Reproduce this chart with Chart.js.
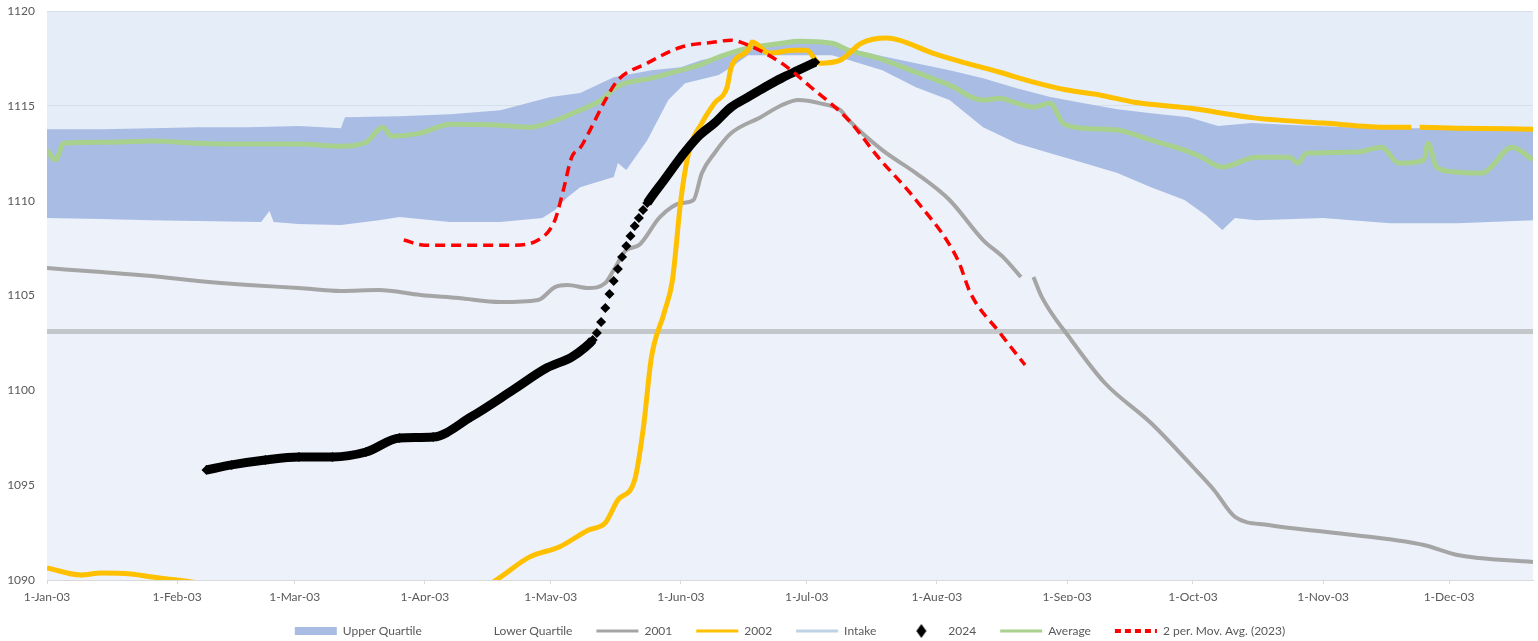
<!DOCTYPE html>
<html>
<head>
<meta charset="utf-8">
<script src="https://cdn.jsdelivr.net/npm/chart.js@4.4.1/dist/chart.umd.min.js"></script>
<style>
  html, body { margin: 0; padding: 0; background: #fff; }
</style>
</head>
<body>
<canvas id="levelChart" width="1538" height="641"></canvas>
<script>
// x values are day of year (0 = 1-Jan)
const monthDays = [0, 31, 59, 90, 120, 151, 181, 212, 243, 273, 304, 334];
const monthLabels = ["1-Jan-03", "1-Feb-03", "1-Mar-03", "1-Apr-03", "1-May-03", "1-Jun-03",
  "1-Jul-03", "1-Aug-03", "1-Sep-03", "1-Oct-03", "1-Nov-03", "1-Dec-03"];

const upperDays = [0, 13, 25, 36, 48, 60, 70, 71, 84, 96, 108, 120, 127, 135, 144, 151, 156, 167, 175, 179, 184, 191, 198, 207, 215, 223, 231, 239, 247, 255, 263, 272, 279, 287, 298, 310, 322, 334, 354];
const upperVals = [1113.78, 1113.78, 1113.83, 1113.88, 1113.88, 1113.94, 1113.83, 1114.41, 1114.46, 1114.57, 1114.78, 1115.47, 1115.68, 1116.52, 1116.89, 1117.05, 1117.42, 1117.94, 1118.21, 1118.37, 1118.31, 1118.05, 1117.68, 1117.26, 1116.89, 1116.47, 1115.94, 1115.47, 1115.15, 1114.83, 1114.62, 1114.41, 1113.94, 1114.10, 1113.99, 1113.88, 1113.83, 1113.83, 1113.78];

const lowerDays = [0, 13, 25, 36, 51, 53, 54, 60, 70, 79, 84, 96, 108, 118, 121, 124, 127, 135, 136, 138, 143, 148, 152, 160, 163, 167, 177, 187, 191, 199, 207, 215, 223, 231, 239, 247, 255, 263, 271, 276, 280, 283, 288, 304, 320, 336, 354];
const lowerVals = [1109.09, 1109.04, 1108.98, 1108.93, 1108.88, 1109.46, 1108.88, 1108.77, 1108.72, 1108.98, 1109.14, 1108.88, 1108.88, 1109.09, 1109.51, 1110.19, 1110.72, 1111.25, 1111.99, 1111.62, 1113.20, 1115.31, 1116.20, 1116.63, 1117.05, 1117.68, 1117.68, 1117.68, 1117.42, 1116.89, 1115.99, 1115.31, 1113.88, 1113.04, 1112.51, 1111.99, 1111.46, 1110.72, 1110.04, 1109.25, 1108.46, 1109.09, 1108.98, 1109.09, 1108.82, 1108.82, 1108.98];

const y2001Days = [0, 13, 25, 36, 48, 60, 70, 79, 89, 98, 108, 117, 121, 124, 129, 133, 135, 138, 141, 146, 151, 154, 156, 159, 163, 170, 175, 179, 184, 189, 191, 199, 207, 215, 223, 228, 232, 234, 235, 237, 244, 252, 263, 273, 278, 283, 291, 307, 328, 336, 354];
const y2001Vals = [1106.45, 1106.24, 1106.03, 1105.77, 1105.56, 1105.40, 1105.24, 1105.29, 1105.03, 1104.87, 1104.66, 1104.77, 1105.45, 1105.56, 1105.40, 1105.66, 1106.35, 1107.40, 1107.66, 1109.14, 1109.88, 1110.04, 1111.46, 1112.51, 1113.57, 1114.41, 1115.04, 1115.31, 1115.15, 1114.78, 1114.25, 1112.67, 1111.46, 1110.04, 1107.93, 1106.98, 1105.98, null, 1105.98, 1104.92, 1102.66, 1100.39, 1098.28, 1095.96, 1094.75, 1093.33, 1092.90, 1092.48, 1091.85, 1091.32, 1090.95];

const y2002Days = [0, 8, 13, 20, 25, 31, 36, 50, 80, 103, 107, 115, 122, 129, 133, 136, 140, 142, 144, 147, 149, 151, 153, 156, 159, 162, 163, 167, 168, 172, 178, 181, 184, 189, 194, 200, 203, 211, 219, 227, 235, 243, 251, 259, 272, 288, 304, 320, 325, 326, 327, 336, 354];
const y2002Vals = [1090.64, 1090.27, 1090.37, 1090.32, 1090.16, 1090.00, 1089.85, 1089.5, 1089.3, 1089.5, 1090.00, 1091.22, 1091.74, 1092.64, 1093.01, 1094.22, 1095.28, 1097.91, 1101.76, 1104.08, 1105.82, 1110.04, 1112.67, 1114.10, 1115.15, 1115.99, 1117.05, 1117.94, 1118.37, 1117.79, 1117.94, 1117.94, 1117.26, 1117.42, 1118.31, 1118.58, 1118.47, 1117.79, 1117.26, 1116.78, 1116.26, 1115.84, 1115.57, 1115.20, 1114.89, 1114.36, 1114.10, 1113.88, 1113.88, null, 1113.88, 1113.83, 1113.78];

const intakeDays = [0, 354];
const intakeVals = [1103.1, 1103.1];

const y2024Days = [38, 44, 52, 60, 68, 76, 84, 92, 101, 111, 119, 125, 128, 130, 131, 132, 133, 134, 135, 136, 137, 138, 139, 140, 141, 142, 143, 147, 151, 155, 159, 163, 167, 171, 175, 179, 183];
const y2024Vals = [1095.80, 1096.07, 1096.33, 1096.49, 1096.49, 1096.75, 1097.49, 1097.54, 1098.60, 1100.02, 1101.18, 1101.76, 1102.24, 1102.66, 1103.03, 1103.61, 1104.34, 1105.08, 1105.77, 1106.40, 1107.03, 1107.61, 1108.14, 1108.67, 1109.09, 1109.51, 1109.88, 1111.09, 1112.30, 1113.36, 1114.10, 1114.94, 1115.47, 1115.99, 1116.47, 1116.89, 1117.31];

const avgDays = [0, 2, 4, 13, 25, 36, 48, 60, 70, 76, 80, 82, 89, 96, 108, 115, 120, 127, 132, 136, 144, 151, 156, 160, 167, 175, 179, 187, 191, 198, 207, 215, 223, 227, 231, 235, 239, 242, 247, 255, 263, 271, 275, 280, 288, 296, 298, 300, 312, 318, 322, 328, 329, 331, 336, 342, 344, 349, 354];
const avgVals = [1112.67, 1112.15, 1113.04, 1113.09, 1113.15, 1113.04, 1112.99, 1112.99, 1112.88, 1113.09, 1113.88, 1113.41, 1113.57, 1114.04, 1113.99, 1113.88, 1114.15, 1114.78, 1115.31, 1116.05, 1116.47, 1116.89, 1117.21, 1117.58, 1118.05, 1118.31, 1118.42, 1118.31, 1117.94, 1117.52, 1116.78, 1116.10, 1115.31, 1115.41, 1115.15, 1114.94, 1115.15, 1114.10, 1113.83, 1113.73, 1113.20, 1112.67, 1112.30, 1111.78, 1112.30, 1112.30, 1111.99, 1112.51, 1112.57, 1112.83, 1111.99, 1112.15, 1113.04, 1111.78, 1111.51, 1111.46, 1111.78, 1112.83, 1112.15];

const movAvgDays = [85, 90, 111, 117, 121, 123, 125, 127, 129, 133, 136, 143, 151, 159, 163, 167, 175, 182, 191, 198, 207, 217, 220, 227, 233];
const movAvgVals = [1107.93, 1107.66, 1107.66, 1107.93, 1108.98, 1110.56, 1112.30, 1112.78, 1113.57, 1115.31, 1116.36, 1117.26, 1118.10, 1118.37, 1118.47, 1118.21, 1117.26, 1115.99, 1114.25, 1112.30, 1110.04, 1106.87, 1105.13, 1103.03, 1101.34];

const pts = (xs, ys) => xs.map((x, i) => ({ x: x, y: ys[i] }));

// small diamond for the 2024 legend entry
const diamond = document.createElement("canvas");
diamond.width = 12; diamond.height = 14;
const dctx = diamond.getContext("2d");
dctx.fillStyle = "#000";
dctx.beginPath();
dctx.moveTo(6, 0); dctx.lineTo(11, 7); dctx.lineTo(6, 14); dctx.lineTo(1, 7);
dctx.closePath(); dctx.fill();

const plotBg = {
  id: "plotBg",
  beforeDraw(chart) {
    const a = chart.chartArea, c = chart.ctx;
    c.save();
    c.fillStyle = "#E4EDF8";
    c.fillRect(a.left, a.top, a.right - a.left, a.bottom - a.top);
    c.restore();
  }
};

const lineDs = (label, data, color, width, order) => ({
  label, data, borderColor: color, backgroundColor: color, borderWidth: width,
  pointRadius: 0, fill: false, order, cubicInterpolationMode: "monotone"
});

const data = {
  datasets: [
    {
      label: "Upper Quartile", data: pts(upperDays, upperVals),
      borderColor: "transparent", borderWidth: 0, backgroundColor: "#A9BCE4",
      fill: "+1", pointRadius: 0, order: 9, legendFill: "#A9BCE4", legendStyle: "rect"
    },
    {
      label: "Lower Quartile", data: pts(lowerDays, lowerVals),
      borderColor: "transparent", borderWidth: 0, backgroundColor: "#EDF1F9",
      fill: "start", pointRadius: 0, order: 10, legendFill: "rgba(0,0,0,0)", legendStyle: "rect"
    },
    lineDs("2001", pts(y2001Days, y2001Vals), "#A5A5A5", 4, 7),
    lineDs("2002", pts(y2002Days, y2002Vals), "#FFC000", 5, 5),
    Object.assign(lineDs("Intake", pts(intakeDays, intakeVals), "#C3C7C9", 5, 8), { legendColor: "#BFD3E6" }),
    {
      label: "2024", data: pts(y2024Days, y2024Vals),
      borderColor: "#000", backgroundColor: "#000", borderWidth: 9,
      pointStyle: "rectRot", pointRadius: 5, pointBorderWidth: 0, pointBackgroundColor: "#000",
      fill: false, order: 4, cubicInterpolationMode: "monotone", legendStyle: diamond,
      segment: {
        borderColor: ctx => {
          const dy = Math.abs(ctx.p1.parsed.y - ctx.p0.parsed.y);
          const dx = Math.max(ctx.p1.parsed.x - ctx.p0.parsed.x, 1);
          return dy / dx > 0.34 ? "transparent" : "#000";
        }
      }
    },
    lineDs("Average", pts(avgDays, avgVals), "#A9D18E", 5, 6),
    Object.assign(lineDs("2 per. Mov. Avg. (2023)", pts(movAvgDays, movAvgVals), "#FF0000", 3.5, 1), { borderDash: [10, 6] })
  ]
};

const config = {
  type: "line",
  data,
  options: {
    responsive: false,
    animation: false,
    layout: { padding: { top: 0, right: 5, left: 0, bottom: -6 } },
    plugins: {
      tooltip: { enabled: false },
      legend: {
        position: "bottom",
        fullSize: false,
        labels: {
          usePointStyle: true,
          pointStyleWidth: 42,
          boxHeight: 8,
          padding: 24,
          color: "#595959",
          font: { family: "Lato", size: 12 },
          generateLabels: chart => chart.data.datasets.map((ds, i) => ({
            text: ds.label,
            datasetIndex: i,
            fillStyle: ds.legendFill || ds.legendColor || ds.borderColor,
            strokeStyle: ds.legendColor || ds.borderColor,
            lineWidth: ds.legendStyle ? 0 : (i === 7 ? 4 : 3),
            lineDash: ds.borderDash ? [6, 4] : [],
            pointStyle: ds.legendStyle || "line",
            fontColor: "#595959"
          }))
        }
      }
    },
    scales: {
      x: {
        type: "linear",
        min: 0,
        max: 354,
        afterBuildTicks: scale => { scale.ticks = monthDays.map(v => ({ value: v })); },
        afterFit: scale => { scale.height = 21; },
        ticks: {
          autoSkip: false,
          maxRotation: 0,
          padding: 6,
          color: "#595959",
          font: { family: "Lato", size: 12 },
          callback: v => monthLabels[monthDays.indexOf(v)]
        },
        grid: { drawOnChartArea: false, tickLength: 4, color: "#D9D9D9" },
        border: { color: "#D9D9D9" }
      },
      y: {
        min: 1090,
        max: 1120,
        afterFit: scale => { scale.width = 47; },
        ticks: {
          stepSize: 5,
          padding: 4,
          color: "#595959",
          font: { family: "Lato", size: 12 },
          callback: v => String(v)
        },
        grid: { color: "rgba(205,212,222,0.6)", tickColor: "transparent", tickLength: 8 },
        border: { display: false }
      }
    }
  },
  plugins: [plotBg]
};

const levelChart = new Chart(document.getElementById("levelChart"), config);
</script>
</body>
</html>
